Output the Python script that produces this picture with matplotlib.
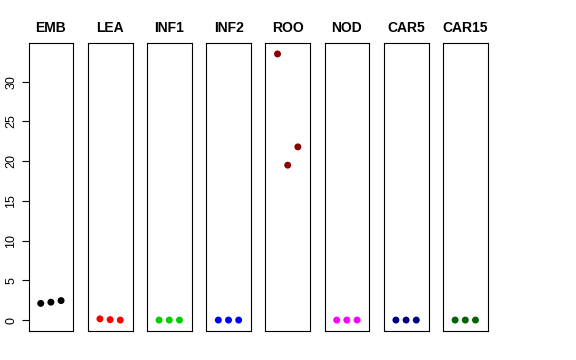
import matplotlib
matplotlib.use("Agg")
import matplotlib.pyplot as plt

plt.rcParams['font.family'] = ['Liberation Sans', 'DejaVu Sans']

categories = ["EMB", "LEA", "INF1", "INF2", "ROO", "NOD", "CAR5", "CAR15"]
values = {
    "EMB": [2.1, 2.25, 2.45],
    "LEA": [0.15, 0.05, 0.0],
    "INF1": [0.0, 0.0, 0.0],
    "INF2": [0.0, 0.0, 0.0],
    "ROO": [33.5, 19.5, 21.8],
    "NOD": [0.0, 0.0, 0.0],
    "CAR5": [0.0, 0.0, 0.0],
    "CAR15": [0.0, 0.0, 0.0],
}
colors = ["black", "red", "#00CD00", "blue", "#8B0000", "magenta", "#000080", "#006400"]
yticks = [0, 5, 10, 15, 20, 25, 30]

W, H = 576, 360
fig = plt.figure(figsize=(W / 100, H / 100), dpi=100)

left0 = 28.5
period = 59.2
pw = 44.8
top = 43.3
bottom = 330.7

allv = [v for c in categories for v in values[c]]
lo, hi = min(allv), max(allv)
r = hi - lo
ylim = (lo - 0.04 * r, hi + 0.04 * r)

for i, (cat, col) in enumerate(zip(categories, colors)):
    x0 = left0 + i * period
    ax = fig.add_axes([x0 / W, 1 - bottom / H, pw / W, (bottom - top) / H])
    ys = values[cat]
    ax.scatter([1, 2, 3], ys, s=25, color=col, edgecolors='none', zorder=3)
    ax.set_xlim(-0.2, 4.2)
    ax.set_ylim(*ylim)
    ax.set_xticks([])
    ax.set_title(cat, fontsize=10, fontweight='bold', pad=8)
    for s in ax.spines.values():
        s.set_linewidth(0.8)
        s.set_color('black')
    if i == 0:
        ax.set_yticks(yticks)
        ax.set_yticklabels([str(t) for t in yticks], rotation=90, va='center', fontsize=9)
        ax.tick_params(axis='y', length=5, width=0.8, pad=3)
    else:
        ax.set_yticks([])

fig.savefig("out.png", dpi=100)
